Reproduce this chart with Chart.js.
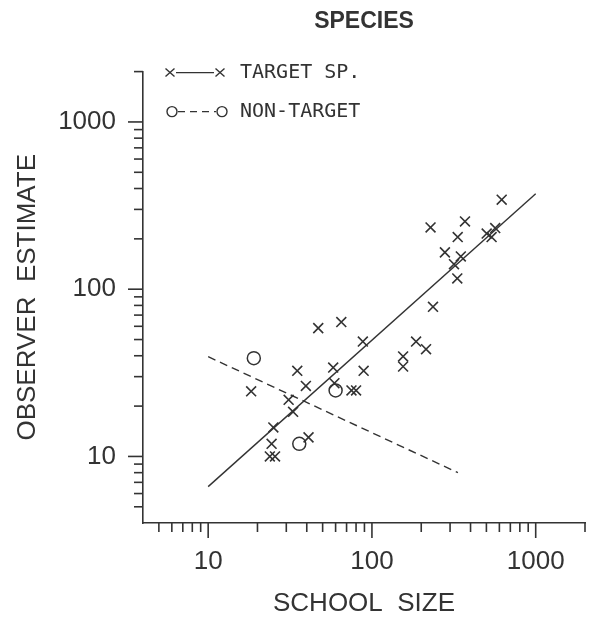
<!DOCTYPE html>
<html>
<head>
<meta charset="utf-8">
<script src="https://cdn.jsdelivr.net/npm/chart.js@4.4.1/dist/chart.umd.min.js"></script>
<style>
  body { margin: 0; background: #fff; }
  #kutu { width: 589px; height: 621px; }
</style>
</head>
<body>
<div id="kutu"><canvas id="grafik"></canvas></div>
<script>
// target species (x marks)
const targetX = [47, 65, 88, 35, 58, 89, 18.3, 39.5, 59, 75, 80, 31, 33, 25, 24.4, 41, 23.8, 25.6,
                 620, 228, 370, 334, 502, 566, 538, 279, 349, 317, 332, 236, 186, 214, 155, 155];
const targetY = [58.5, 63.6, 48.6, 32.5, 34, 32.5, 24.5, 26.4, 27.4, 24.8, 24.8, 21.8, 18.5, 14.9, 11.9, 13, 10, 10,
                 343, 234, 254, 205, 215, 232, 205, 166, 157, 141, 116, 78.5, 48.6, 43.8, 39.6, 34.5];
// non-target (circles)
const nonTargetX = [19, 60, 36];
const nonTargetY = [38.7, 24.8, 11.9];
// fitted lines
const targetFitX = [10, 1000];
const targetFitY = [6.6, 372];
const nonTargetFitX = [10, 335];
const nonTargetFitY = [39.5, 8];

const tickVals = [5, 6, 7, 8, 9, 10, 20, 30, 40, 50, 60, 70, 80, 90, 100,
                  200, 300, 400, 500, 600, 700, 800, 900, 1000, 2000];
const majorTicks = [10, 100, 1000];

const renk = '#333';
const yazi = '"Liberation Sans", Arial, sans-serif';
const noktalar = (xs, ys) => xs.map((x, i) => ({ x: x, y: ys[i] }));

// tick marks: long for the decades, short for the rest
const tikCiz = {
    id: 'tikCiz',
    afterDraw(chart) {
        const ctx = chart.ctx;
        const xs = chart.scales.x, ys = chart.scales.y;
        const alt = chart.chartArea.bottom, sol = chart.chartArea.left;
        ctx.save();
        ctx.strokeStyle = renk;
        ctx.lineWidth = 1.6;
        tickVals.forEach(v => {
            const uzun = majorTicks.includes(v) ? 15 : 9;
            const px = xs.getPixelForValue(v);
            ctx.beginPath(); ctx.moveTo(px, alt); ctx.lineTo(px, alt + uzun); ctx.stroke();
            const py = ys.getPixelForValue(v);
            ctx.beginPath(); ctx.moveTo(sol, py); ctx.lineTo(sol - uzun, py); ctx.stroke();
        });
        ctx.restore();
    }
};

// legend in the top left corner of the plot
const lejant = {
    id: 'lejant',
    afterDraw(chart) {
        const ctx = chart.ctx;
        const a = chart.chartArea;
        const x0 = a.left + 27, x1 = a.left + 77, yaz = a.left + 97;
        const y1 = a.top + 1, y2 = a.top + 40;
        ctx.save();
        ctx.strokeStyle = renk;
        ctx.fillStyle = renk;
        ctx.lineWidth = 1.4;
        // x——x
        [x0, x1].forEach(x => {
            ctx.beginPath();
            ctx.moveTo(x - 4.5, y1 - 4); ctx.lineTo(x + 4.5, y1 + 4);
            ctx.moveTo(x + 4.5, y1 - 4); ctx.lineTo(x - 4.5, y1 + 4);
            ctx.stroke();
        });
        ctx.beginPath(); ctx.moveTo(x0 + 6, y1); ctx.lineTo(x1 - 6, y1); ctx.stroke();
        // O---O
        [x0 + 2, x1 + 2].forEach(x => {
            ctx.beginPath(); ctx.arc(x, y2, 5, 0, Math.PI * 2); ctx.stroke();
        });
        ctx.setLineDash([7, 5]);
        ctx.beginPath(); ctx.moveTo(x0 + 8, y2); ctx.lineTo(x1 - 4, y2); ctx.stroke();
        ctx.setLineDash([]);
        ctx.font = '20px "DejaVu Sans Mono"';
        ctx.textBaseline = 'middle';
        ctx.fillText('TARGET SP.', yaz, y1);
        ctx.fillText('NON-TARGET', yaz, y2);
        ctx.restore();
    }
};

const eksen = (baslik) => ({
    type: 'logarithmic',
    min: 4,
    max: 2000,
    grid: { display: false, drawTicks: false },
    border: { display: true, color: renk, width: 1.6 },
    afterBuildTicks: s => { s.ticks = tickVals.map(v => ({ value: v })); },
    ticks: {
        color: renk,
        font: { family: yazi, size: 26 },
        autoSkip: false,
        maxRotation: 0,
        callback: v => majorTicks.includes(v) ? String(v) : ''
    },
    title: {
        display: true,
        text: baslik,
        color: renk,
        font: { family: yazi, size: 26 }
    }
});

const xEksen = eksen('SCHOOL  SIZE');
xEksen.ticks.padding = 23;
xEksen.title.padding = { top: 0, bottom: 2 };
xEksen.afterFit = s => { s.height = 98; s.paddingLeft = 0; s.paddingRight = 0; };

const yEksen = eksen('OBSERVER  ESTIMATE');
yEksen.ticks.padding = 27;
yEksen.title.padding = { top: 12, bottom: 0 };
yEksen.afterFit = s => { s.width = 143; s.paddingTop = 0; s.paddingBottom = 0; };

new Chart(document.getElementById('grafik'), {
    type: 'scatter',
    data: {
        datasets: [
            {
                label: 'TARGET SP.',
                data: noktalar(targetX, targetY),
                pointStyle: 'crossRot',
                pointRadius: 7,
                borderColor: renk,
                borderWidth: 1.6
            },
            {
                label: 'NON-TARGET',
                data: noktalar(nonTargetX, nonTargetY),
                pointStyle: 'circle',
                pointRadius: 6.5,
                backgroundColor: 'rgba(0,0,0,0)',
                borderColor: renk,
                borderWidth: 1.5
            },
            {
                label: 'target fit',
                data: noktalar(targetFitX, targetFitY),
                showLine: true,
                pointRadius: 0,
                borderColor: renk,
                borderWidth: 1.4
            },
            {
                label: 'non-target fit',
                data: noktalar(nonTargetFitX, nonTargetFitY),
                showLine: true,
                pointRadius: 0,
                borderColor: renk,
                borderWidth: 1.4,
                borderDash: [8, 5]
            }
        ]
    },
    options: {
        responsive: true,
        maintainAspectRatio: false,
        animation: false,
        layout: { autoPadding: false, padding: { left: 0, right: 4, top: 0, bottom: 0 } },
        scales: { x: xEksen, y: yEksen },
        plugins: {
            legend: { display: false },
            tooltip: { enabled: false },
            title: {
                display: true,
                text: 'SPECIES',
                fullSize: false,
                color: renk,
                font: { family: yazi, size: 23, weight: 'bold' },
                padding: { top: 8, bottom: 36 }
            }
        }
    },
    plugins: [tikCiz, lejant]
});
</script>
</body>
</html>
